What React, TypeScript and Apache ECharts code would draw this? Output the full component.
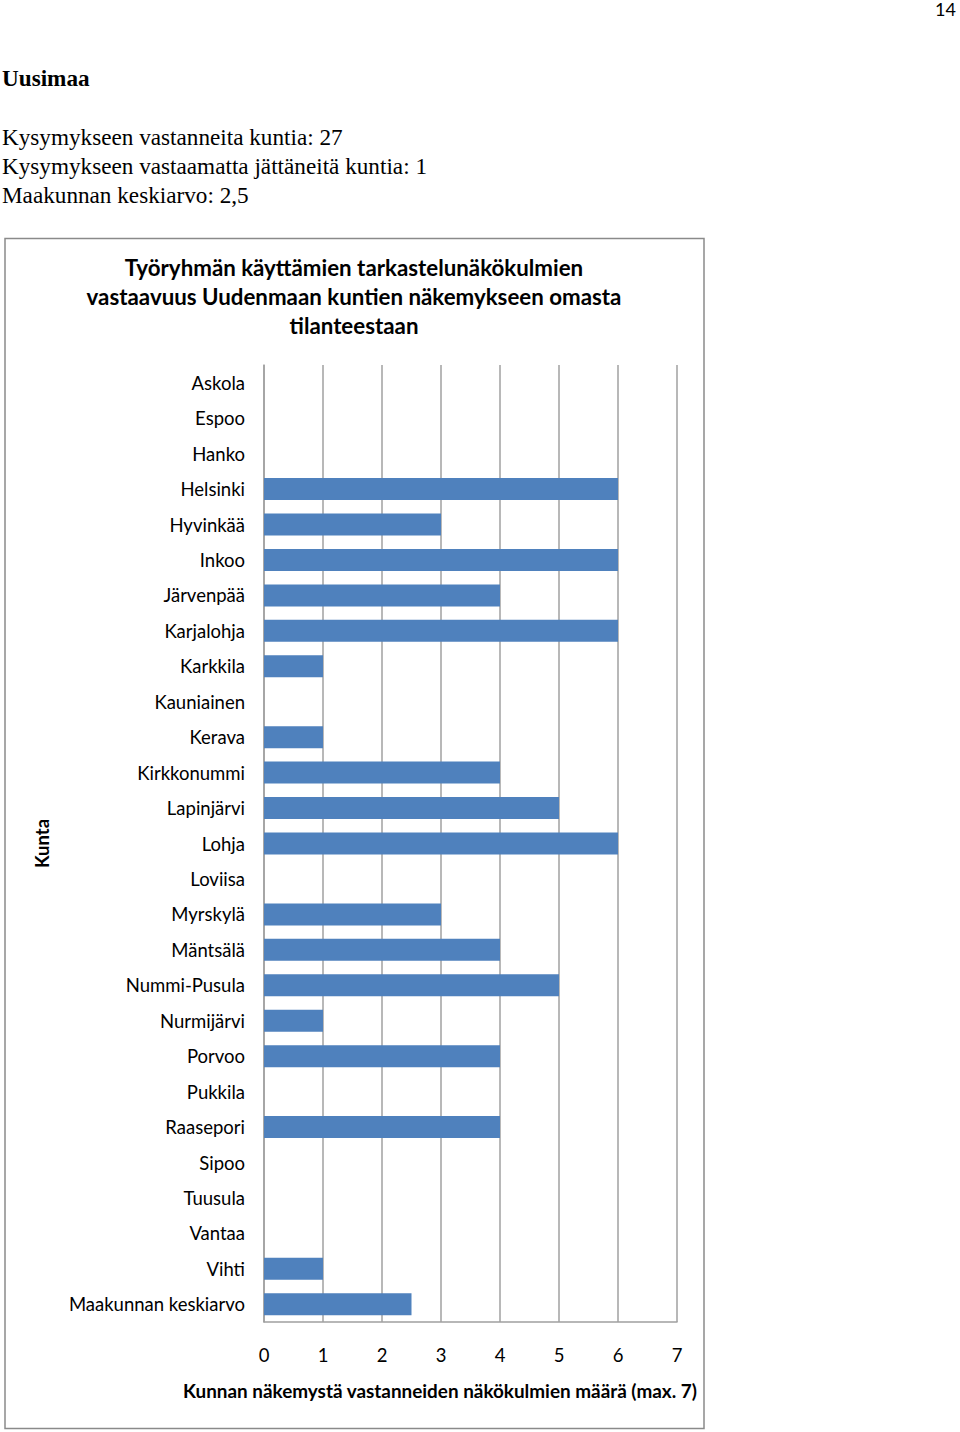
import React, { useEffect, useRef } from "react";
import * as echarts from "echarts";

const categories = [
  "Askola", "Espoo", "Hanko", "Helsinki", "Hyvinkää", "Inkoo", "Järvenpää",
  "Karjalohja", "Karkkila", "Kauniainen", "Kerava", "Kirkkonummi", "Lapinjärvi",
  "Lohja", "Loviisa", "Myrskylä", "Mäntsälä", "Nummi-Pusula", "Nurmijärvi",
  "Porvoo", "Pukkila", "Raasepori", "Sipoo", "Tuusula", "Vantaa", "Vihti",
  "Maakunnan keskiarvo",
];
const values = [
  0, 0, 0, 6, 3, 6, 4,
  6, 1, 0, 1, 4, 5,
  6, 0, 3, 4, 5, 1,
  4, 0, 4, 0, 0, 0, 1,
  2.5,
];
const pageNumber = "14";
const heading = "Uusimaa";
const infoLines = [
  "Kysymykseen vastanneita kuntia: 27",
  "Kysymykseen vastaamatta jättäneitä kuntia: 1",
  "Maakunnan keskiarvo: 2,5",
];
const chartTitle =
  "Työryhmän käyttämien tarkastelunäkökulmien\nvastaavuus Uudenmaan kuntien näkemykseen omasta\ntilanteestaan";
const yAxisName = "Kunta";
const xAxisName = "Kunnan näkemystä vastanneiden näkökulmien määrä (max. 7)";
const xMin = 0;
const xMax = 7;
const xStep = 1;

const SERIF = "'Liberation Serif', 'DejaVu Serif', serif";
const SANS = "Lato, 'Noto Sans', sans-serif";

export default function App() {
  const ref = useRef<HTMLDivElement>(null);
  useEffect(() => {
    if (!ref.current) return;
    const chart = echarts.init(ref.current, undefined, { renderer: "svg" });
    const graphics: any[] = [
      {
        type: "rect",
        shape: { x: 5, y: 238.5, width: 699, height: 1190 },
        style: { fill: "none", stroke: "#8a8a8a", lineWidth: 1.5 },
        z: -1,
      },
      {
        type: "text",
        x: 956,
        y: 9,
        style: {
          text: pageNumber,
          fontFamily: SANS,
          fontSize: 18,
          fill: "#000",
          textAlign: "right",
          textVerticalAlign: "middle",
        },
      },
      {
        type: "text",
        x: 2,
        y: 78,
        style: {
          text: heading,
          fontFamily: SERIF,
          fontWeight: "bold",
          fontSize: 23.2,
          fill: "#000",
          textAlign: "left",
          textVerticalAlign: "middle",
        },
      },
      ...infoLines.map((t, i) => ({
        type: "text",
        x: 2,
        y: 137 + i * 29.2,
        style: {
          text: t,
          fontFamily: SERIF,
          fontSize: 23.2,
          fill: "#000",
          textAlign: "left",
          textVerticalAlign: "middle",
        },
      })),
      {
        type: "text",
        x: 440,
        y: 1390,
        style: {
          text: xAxisName,
          fontFamily: SANS,
          fontWeight: "bold",
          fontSize: 18.9,
          fill: "#000",
          textAlign: "center",
          textVerticalAlign: "middle",
        },
      },
    ];

    chart.setOption({
      animation: false,
      title: {
        text: chartTitle,
        left: 354,
        top: 253,
        padding: 0,
        textAlign: "center",
        textStyle: {
          fontFamily: SANS,
          fontWeight: "bold",
          fontSize: 22.3,
          lineHeight: 29,
          color: "#000",
        },
      },
      grid: { left: 264, right: 283, top: 365, bottom: 110, containLabel: false },
      xAxis: {
        type: "value",
        min: xMin,
        max: xMax,
        interval: xStep,
        axisLine: { show: true, lineStyle: { color: "#a0a0a0", width: 1.5 } },
        axisTick: { show: false },
        splitLine: { show: true, lineStyle: { color: "#a0a0a0", width: 1.5 } },
        axisLabel: {
          margin: 23,
          fontFamily: SANS,
          fontSize: 18.5,
          color: "#000",
        },
      },
      yAxis: {
        type: "category",
        inverse: true,
        data: categories,
        name: yAxisName,
        nameLocation: "middle",
        nameRotate: 90,
        nameGap: 213,
        nameTextStyle: {
          fontFamily: SANS,
          fontWeight: "bold",
          fontSize: 18.5,
          color: "#000",
        },
        axisLine: { show: true, lineStyle: { color: "#a0a0a0", width: 1.5 } },
        axisTick: { show: false },
        splitLine: { show: false },
        axisLabel: {
          margin: 19,
          fontFamily: SANS,
          fontSize: 18.5,
          color: "#000",
        },
      },
      series: [
        {
          type: "bar",
          data: values,
          barWidth: 22,
          itemStyle: { color: "#4f81bd" },
          z: 3,
        },
      ],
      graphic: graphics,
    });
    return () => chart.dispose();
  }, []);
  return (
    <div
      ref={ref}
      style={{ position: "absolute", left: 0, top: 0, width: 960, height: 1432 }}
    />
  );
}
